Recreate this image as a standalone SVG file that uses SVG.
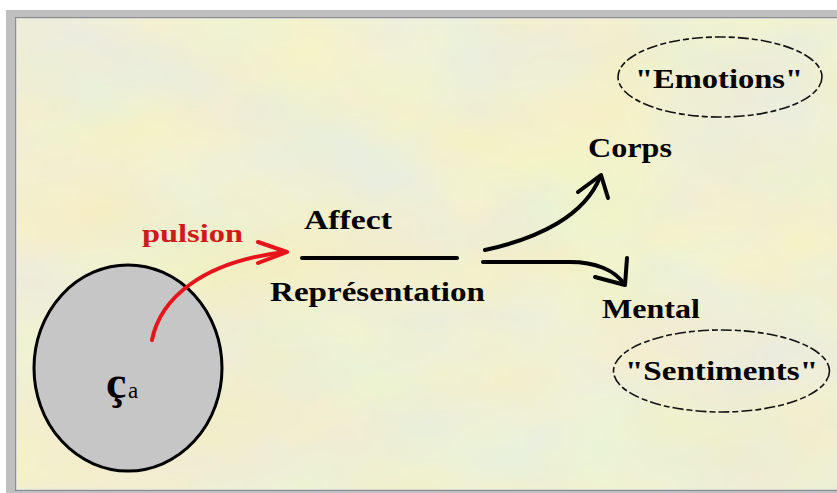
<svg xmlns="http://www.w3.org/2000/svg" width="837" height="493" viewBox="0 0 837 493">
<defs>
<style>
.t{font-family:"Liberation Serif","Times New Roman",serif;font-weight:bold;font-size:28px;fill:#000}
.red{fill:#d01a1a}
.dash{fill:none;stroke:#111;stroke-width:1.6;stroke-dasharray:11 3 6 3}
.blk{fill:none;stroke:#000;stroke-width:4;stroke-linecap:round;stroke-linejoin:round}
.rd{fill:none;stroke:#e8141c;stroke-width:4;stroke-linecap:round;stroke-linejoin:round}
</style>
<filter id="tex" x="0" y="0" width="100%" height="100%" color-interpolation-filters="sRGB">
<feTurbulence type="fractalNoise" baseFrequency="0.006 0.01" numOctaves="3" seed="7"/>
<feColorMatrix type="matrix" values="0.07 0 -0.05 0 0.93  0 0.05 -0.02 0 0.925  -0.05 0 0.15 0 0.77  0 0 0 0 1"/>
</filter>
</defs>
<rect x="0" y="0" width="837" height="493" fill="#ffffff"/>
<rect x="6" y="10" width="831" height="483" fill="#bfbfbf"/>
<rect x="15" y="17" width="822" height="474" fill="#8c8c8c"/>
<rect x="16" y="18" width="821" height="472" fill="#d8d8d8"/>
<rect x="17" y="19" width="820" height="470" fill="#f1efd0" filter="url(#tex)"/>

<g id="ca">
<ellipse cx="128" cy="368" rx="94" ry="103" fill="#c6c6c6" stroke="#000" stroke-width="3"/>
<text class="t" x="106" y="398" style="font-size:46px">ç</text>
<text class="t" x="128" y="398" style="font-size:23px;font-weight:normal">a</text>
</g>

<g id="pulsion">
<text class="t red" x="142" y="242" textLength="101" lengthAdjust="spacingAndGlyphs" style="font-size:26px">pulsion</text>
</g>

<g id="affect">
<text class="t" x="304" y="229" textLength="88" lengthAdjust="spacingAndGlyphs">Affect</text>
</g>

<g id="representation">
<text class="t" x="270" y="301" textLength="215" lengthAdjust="spacingAndGlyphs">Représentation</text>
</g>

<g id="corps">
<text class="t" x="588" y="157" textLength="84" lengthAdjust="spacingAndGlyphs">Corps</text>
</g>

<g id="mental">
<text class="t" x="602" y="318" textLength="98" lengthAdjust="spacingAndGlyphs">Mental</text>
</g>

<g id="emotions">
<ellipse class="dash" cx="720" cy="77" rx="102" ry="40"/>
<text class="t" x="635" y="88" textLength="168" lengthAdjust="spacingAndGlyphs">"Emotions"</text>
</g>

<g id="sentiments">
<ellipse class="dash" cx="721.5" cy="371" rx="108" ry="41"/>
<text class="t" x="625" y="380" textLength="193" lengthAdjust="spacingAndGlyphs">"Sentiments"</text>
</g>

<g id="connectors">
<path class="rd" d="M152,340 C160,300 200,262 285,252"/>
<path class="rd" d="M258,242 L287,252 L258,263"/>
<path class="blk" d="M302,258 L457,258" stroke-width="5"/>
<path class="blk" d="M485,250 C540,238 585,215 600,177"/>
<path class="blk" d="M578,192 L601,175 L608,198"/>
<path class="blk" d="M483,262 L570,262 C595,262 615,270 624,284"/>
<path class="blk" d="M627,258 L625,285 L595,277"/>
</g>
</svg>
